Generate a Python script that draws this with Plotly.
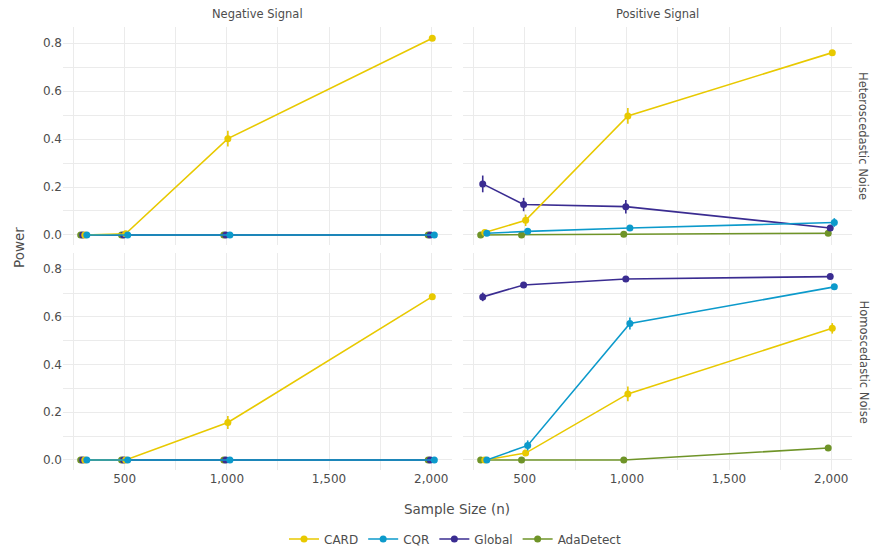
import plotly.graph_objects as go

# ---------------- data ----------------
sample_sizes = [300, 500, 1000, 2000]
methods = ["CARD", "CQR", "Global", "AdaDetect"]

# Heteroscedastic noise, Negative signal
het_neg_card = [0.000, 0.005, 0.402, 0.821]
het_neg_card_err = [0.002, 0.004, 0.033, 0.008]
het_neg_cqr = [0.0, 0.0, 0.0, 0.0]
het_neg_cqr_err = [0.0, 0.0, 0.0, 0.0]
het_neg_global = [0.0, 0.0, 0.0, 0.0]
het_neg_global_err = [0.0, 0.0, 0.0, 0.0]
het_neg_ada = [0.0, 0.0, 0.0, 0.0]
het_neg_ada_err = [0.0, 0.0, 0.0, 0.0]

# Heteroscedastic noise, Positive signal
het_pos_card = [0.010, 0.061, 0.497, 0.761]
het_pos_card_err = [0.005, 0.024, 0.033, 0.006]
het_pos_cqr = [0.007, 0.015, 0.029, 0.052]
het_pos_cqr_err = [0.004, 0.006, 0.008, 0.018]
het_pos_global = [0.213, 0.127, 0.118, 0.029]
het_pos_global_err = [0.035, 0.028, 0.028, 0.008]
het_pos_ada = [0.000, 0.000, 0.003, 0.007]
het_pos_ada_err = [0.0, 0.0, 0.002, 0.003]

# Homoscedastic noise, Negative signal
hom_neg_card = [0.000, 0.000, 0.157, 0.685]
hom_neg_card_err = [0.0, 0.002, 0.027, 0.012]
hom_neg_cqr = [0.0, 0.0, 0.0, 0.0]
hom_neg_cqr_err = [0.0, 0.0, 0.0, 0.0]
hom_neg_global = [0.0, 0.0, 0.0, 0.0]
hom_neg_global_err = [0.0, 0.0, 0.0, 0.0]
hom_neg_ada = [0.0, 0.0, 0.0, 0.0]
hom_neg_ada_err = [0.0, 0.0, 0.0, 0.0]

# Homoscedastic noise, Positive signal
hom_pos_card = [0.000, 0.029, 0.277, 0.552]
hom_pos_card_err = [0.0, 0.010, 0.031, 0.022]
hom_pos_cqr = [0.000, 0.061, 0.572, 0.726]
hom_pos_cqr_err = [0.0, 0.021, 0.025, 0.008]
hom_pos_global = [0.684, 0.734, 0.759, 0.769]
hom_pos_global_err = [0.018, 0.008, 0.006, 0.006]
hom_pos_ada = [0.000, 0.000, 0.000, 0.050]
hom_pos_ada_err = [0.0, 0.0, 0.0, 0.004]

x_tick_vals = [500, 1000, 1500, 2000]
x_tick_text = ["500", "1,000", "1,500", "2,000"]
y_tick_vals = [0.0, 0.2, 0.4, 0.6, 0.8]
y_tick_text = ["0.0", "0.2", "0.4", "0.6", "0.8"]

col_labels = ["Negative Signal", "Positive Signal"]
row_labels = ["Heteroscedastic Noise", "Homoscedastic Noise"]

# ---------------- styles ----------------
colors = {"CARD": "#E8C900", "CQR": "#0C9ACB", "Global": "#3A2C91", "AdaDetect": "#6F9428"}
dodge = {"AdaDetect": -15, "Global": -5, "CARD": 5, "CQR": 15}
draw_order = ["AdaDetect", "Global", "CARD", "CQR"]
legend_rank = {"CARD": 1, "CQR": 2, "Global": 3, "AdaDetect": 4}
FONT = "DejaVu Sans"
TXT = "#4D4D4D"

panels = {
    (0, 0): ("", {"CARD": (het_neg_card, het_neg_card_err), "CQR": (het_neg_cqr, het_neg_cqr_err),
                  "Global": (het_neg_global, het_neg_global_err), "AdaDetect": (het_neg_ada, het_neg_ada_err)}),
    (0, 1): ("2", {"CARD": (het_pos_card, het_pos_card_err), "CQR": (het_pos_cqr, het_pos_cqr_err),
                   "Global": (het_pos_global, het_pos_global_err), "AdaDetect": (het_pos_ada, het_pos_ada_err)}),
    (1, 0): ("3", {"CARD": (hom_neg_card, hom_neg_card_err), "CQR": (hom_neg_cqr, hom_neg_cqr_err),
                   "Global": (hom_neg_global, hom_neg_global_err), "AdaDetect": (hom_neg_ada, hom_neg_ada_err)}),
    (1, 1): ("4", {"CARD": (hom_pos_card, hom_pos_card_err), "CQR": (hom_pos_cqr, hom_pos_cqr_err),
                   "Global": (hom_pos_global, hom_pos_global_err), "AdaDetect": (hom_pos_ada, hom_pos_ada_err)}),
}

W, H = 876, 554
x_dom = [[63 / W, 452 / W], [463 / W, 852 / W]]
y_dom = [[1 - 245 / H, 1 - 27 / H], [1 - 470 / H, 1 - 253 / H]]
x_range = [198.5, 2101.5]
y_range = [-0.042, 0.868]

fig = go.Figure()

for (r, c), (suf, data) in panels.items():
    for m in draw_order:
        vals, errs = data[m]
        fig.add_trace(go.Scatter(
            x=[n + dodge[m] for n in sample_sizes],
            y=vals,
            mode="lines+markers",
            name=m,
            legendgroup=m,
            legendrank=legend_rank[m],
            showlegend=(r == 0 and c == 0),
            line=dict(color=colors[m], width=1.6),
            marker=dict(color=colors[m], size=7),
            error_y=dict(type="data", array=errs, visible=True, color=colors[m],
                         thickness=1.6, width=0),
            xaxis="x" + suf, yaxis="y" + suf,
        ))

layout_axes = {}
for (r, c), (suf, _) in panels.items():
    layout_axes["xaxis" + suf] = dict(
        domain=x_dom[c], range=x_range, anchor="y" + suf,
        tickvals=x_tick_vals, ticktext=x_tick_text, showticklabels=(r == 1),
        showgrid=True, gridcolor="#EBEBEB", gridwidth=1.1,
        minor=dict(tickvals=[250, 750, 1250, 1750], showgrid=True, gridcolor="#EBEBEB", gridwidth=0.6),
        zeroline=False, showline=False, ticks="",
        tickfont=dict(family=FONT, size=12, color=TXT),
    )
    layout_axes["yaxis" + suf] = dict(
        domain=y_dom[r], range=y_range, anchor="x" + suf,
        tickvals=y_tick_vals, ticktext=y_tick_text, showticklabels=(c == 0),
        showgrid=True, gridcolor="#EBEBEB", gridwidth=1.1,
        minor=dict(tickvals=[0.1, 0.3, 0.5, 0.7], showgrid=True, gridcolor="#EBEBEB", gridwidth=0.6),
        zeroline=False, showline=False, ticks="",
        tickfont=dict(family=FONT, size=12, color=TXT),
    )

annotations = []
for c, lab in enumerate(col_labels):
    annotations.append(dict(text=lab, x=(x_dom[c][0] + x_dom[c][1]) / 2, y=1 - 14 / H,
                            xref="paper", yref="paper", showarrow=False,
                            xanchor="center", yanchor="middle",
                            font=dict(family=FONT, size=11.5, color=TXT)))
for r, lab in enumerate(row_labels):
    annotations.append(dict(text=lab, x=863 / W, y=(y_dom[r][0] + y_dom[r][1]) / 2,
                            xref="paper", yref="paper", showarrow=False, textangle=90,
                            xanchor="center", yanchor="middle",
                            font=dict(family=FONT, size=11.5, color=TXT)))
annotations.append(dict(text="Power", x=19 / W, y=1 - 248 / H, xref="paper", yref="paper",
                        showarrow=False, textangle=-90, xanchor="center", yanchor="middle",
                        font=dict(family=FONT, size=13.5, color=TXT)))
annotations.append(dict(text="Sample Size (n)", x=457 / W, y=1 - 509 / H, xref="paper", yref="paper",
                        showarrow=False, xanchor="center", yanchor="middle",
                        font=dict(family=FONT, size=13.5, color=TXT)))

fig.update_layout(
    width=W, height=H,
    margin=dict(l=0, r=0, t=0, b=0),
    paper_bgcolor="white", plot_bgcolor="white",
    annotations=annotations,
    legend=dict(orientation="h", x=455 / W, xanchor="center", y=1 - 539 / H, yanchor="middle",
                font=dict(family=FONT, size=12, color=TXT), itemwidth=30,
                tracegroupgap=0, bgcolor="rgba(0,0,0,0)"),
    font=dict(family=FONT, color=TXT),
    **layout_axes,
)

fig.write_html("out.html",
               config={"displayModeBar": False},
               post_script="document.body.style.margin='0';document.body.style.overflow='hidden';")
